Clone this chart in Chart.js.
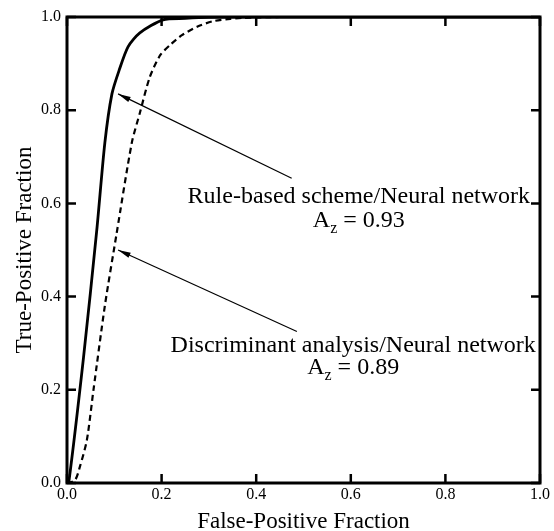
<!DOCTYPE html>
<html>
<head>
<meta charset="utf-8">
<script src="https://cdn.jsdelivr.net/npm/chart.js@4.4.1/dist/chart.umd.min.js"></script>
<style>
  html, body { margin: 0; padding: 0; background: #fff; }
  #wrap { width: 554px; height: 531px; }
</style>
</head>
<body>
<div id="wrap"><canvas id="rocChart" width="554" height="531"></canvas></div>
<script>
// ROC curves
const fpfRule = [0, 0.004, 0.035, 0.063, 0.08, 0.095, 0.11, 0.129, 0.154, 0.203, 0.25, 0.3, 0.4, 1.0];
const tpfRule = [0, 0.003, 0.27, 0.543, 0.73, 0.835, 0.885, 0.936, 0.966, 0.994, 0.997, 0.999, 1.0, 1.0];

const fpfDisc = [0, 0.017, 0.027, 0.042, 0.056, 0.08, 0.105, 0.137, 0.154, 0.175, 0.197, 0.218, 0.243, 0.275, 0.309, 0.345, 0.372, 0.45, 1.0];
const tpfDisc = [0, 0.006, 0.034, 0.092, 0.2, 0.38, 0.536, 0.730, 0.794, 0.871, 0.918, 0.940, 0.961, 0.979, 0.991, 0.996, 0.998, 1.0, 1.0];

const tickValues = [0, 0.2, 0.4, 0.6, 0.8, 1.0];
const xTitle = "False-Positive Fraction";
const yTitle = "True-Positive Fraction";

// annotation labels with arrow tip and tail in data units
const labelLines = [
  ["Rule-based scheme/Neural network", "0.93"],
  ["Discriminant analysis/Neural network", "0.89"]
];
const labelPos = [[0.617, 0.614, 0.562], [0.605, 0.294, 0.247]];
const arrowTip = [[0.108, 0.835], [0.108, 0.50]];
const arrowTail = [[0.475, 0.654], [0.486, 0.325]];

const serif = "'Liberation Serif', 'DejaVu Serif', serif";

function pts(xs, ys) {
  return xs.map((x, i) => ({ x: x, y: ys[i] }));
}

const frameAndNotes = {
  id: 'frameAndNotes',
  afterDatasetsDraw(chart) {
    const ctx = chart.ctx;
    const a = chart.chartArea;
    const xs = chart.scales.x, ys = chart.scales.y;
    ctx.save();
    ctx.strokeStyle = '#000';
    ctx.lineWidth = 3;
    ctx.strokeRect(a.left, a.top, a.right - a.left, a.bottom - a.top);

    // inward ticks on all four sides
    ctx.lineWidth = 2.5;
    const len = 9;
    tickValues.forEach(v => {
      const px = xs.getPixelForValue(v);
      const py = ys.getPixelForValue(v);
      ctx.beginPath();
      ctx.moveTo(px, a.bottom); ctx.lineTo(px, a.bottom - len);
      ctx.moveTo(px, a.top); ctx.lineTo(px, a.top + len);
      ctx.moveTo(a.left, py); ctx.lineTo(a.left + len, py);
      ctx.moveTo(a.right, py); ctx.lineTo(a.right - len, py);
      ctx.stroke();
    });

    // arrows
    ctx.lineWidth = 1.2;
    ctx.fillStyle = '#000';
    for (let i = 0; i < arrowTip.length; i++) {
      const tx = xs.getPixelForValue(arrowTip[i][0]);
      const ty = ys.getPixelForValue(arrowTip[i][1]);
      const sx = xs.getPixelForValue(arrowTail[i][0]);
      const sy = ys.getPixelForValue(arrowTail[i][1]);
      const ang = Math.atan2(ty - sy, tx - sx);
      ctx.beginPath();
      ctx.moveTo(sx, sy);
      ctx.lineTo(tx, ty);
      ctx.stroke();
      ctx.beginPath();
      ctx.moveTo(tx, ty);
      ctx.lineTo(tx - 13 * Math.cos(ang - 0.22), ty - 13 * Math.sin(ang - 0.22));
      ctx.lineTo(tx - 13 * Math.cos(ang + 0.22), ty - 13 * Math.sin(ang + 0.22));
      ctx.closePath();
      ctx.fill();
    }

    // labels
    const big = "24px " + serif, small = "16px " + serif;
    ctx.textBaseline = 'middle';
    for (let i = 0; i < labelLines.length; i++) {
      const cx = xs.getPixelForValue(labelPos[i][0]);
      ctx.textAlign = 'center';
      ctx.font = big;
      ctx.fillText(labelLines[i][0], cx, ys.getPixelForValue(labelPos[i][1]));
      const y2 = ys.getPixelForValue(labelPos[i][2]);
      const rest = " = " + labelLines[i][1];
      const wA = ctx.measureText("A").width;
      const wR = ctx.measureText(rest).width;
      ctx.font = small;
      const wz = ctx.measureText("z").width;
      const x0 = cx - (wA + wz + wR) / 2;
      ctx.textAlign = 'left';
      ctx.font = big;
      ctx.fillText("A", x0, y2);
      ctx.font = small;
      ctx.fillText("z", x0 + wA, y2 + 8);
      ctx.font = big;
      ctx.fillText(rest, x0 + wA + wz, y2);
    }
    ctx.restore();
  }
};

function initializeChart() {
  const ctx = document.getElementById("rocChart").getContext("2d");
  new Chart(ctx, {
    type: 'scatter',
    data: {
      datasets: [{
        data: pts(fpfRule, tpfRule),
        showLine: true,
        borderColor: '#000',
        borderWidth: 2.8,
        pointRadius: 0,
        tension: 0.25
      }, {
        data: pts(fpfDisc, tpfDisc),
        showLine: true,
        borderColor: '#000',
        borderWidth: 2.2,
        borderDash: [6, 4],
        pointRadius: 0,
        tension: 0.25
      }]
    },
    options: {
      responsive: false,
      animation: false,
      layout: { padding: { top: 17, right: 14, left: 11, bottom: 0 } },
      plugins: {
        legend: { display: false },
        tooltip: { enabled: false }
      },
      scales: {
        x: {
          type: 'linear',
          min: 0, max: 1,
          grid: { display: false },
          border: { display: false },
          afterBuildTicks: s => { s.ticks = tickValues.map(v => ({ value: v })); },
          afterFit: s => { s.height = 48; },
          ticks: {
            color: '#000',
            padding: -6,
            font: { family: serif, size: 16 },
            callback: v => v.toFixed(1)
          },
          title: {
            display: true,
            text: xTitle,
            color: '#000',
            padding: { top: 2, bottom: 0 },
            font: { family: serif, size: 23, lineHeight: 0.8 }
          }
        },
        y: {
          type: 'linear',
          min: 0, max: 1,
          grid: { display: false },
          border: { display: false },
          afterBuildTicks: s => { s.ticks = tickValues.map(v => ({ value: v })); },
          afterFit: s => { s.width = 56; },
          ticks: {
            color: '#000',
            padding: -2,
            font: { family: serif, size: 16 },
            callback: v => v.toFixed(1)
          },
          title: {
            display: true,
            text: yTitle,
            color: '#000',
            padding: 0,
            font: { family: serif, size: 23 }
          }
        }
      }
    },
    plugins: [frameAndNotes]
  });
}

window.onload = initializeChart;
</script>
</body>
</html>
